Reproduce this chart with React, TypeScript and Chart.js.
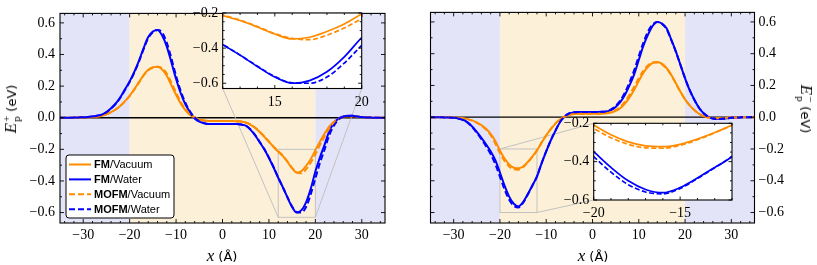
import React, { useEffect, useRef } from 'react';
import { Chart, registerables } from 'chart.js';
Chart.register(...registerables);

// ---------------- data ----------------
const X_POS = [-35,-34,-33,-32,-31,-30,-29,-28,-27,-26,-25,-24,-23,-22,-21,-20,-19,-18,-17,-16,-15,-14,-13,-12,-11,-10,-9,-8,-7,-6,-5,-4,-3,-2,-1,0,1,2,3,4,5,6,7,8,9,10,11,12,13,14,15,16,17,18,19,20,21,22,23,24,25,26,27,28,29,30,31,32,33,34,35];

// E_p^+ panel
const FM_VACUUM_PLUS = [0,0,0,0.001,0.001,0.002,0.003,0.005,0.008,0.013,
  0.022,0.035,0.052,0.075,0.105,0.14,0.18,0.225,0.27,0.303,
  0.32,0.322,0.305,0.265,0.205,0.145,0.09,0.048,0.018,0,
  -0.012,-0.018,-0.02,-0.021,-0.021,-0.021,-0.021,-0.021,-0.022,-0.024,
  -0.03,-0.043,-0.063,-0.09,-0.12,-0.152,-0.185,-0.215,-0.243,-0.28,
  -0.32,-0.348,-0.338,-0.305,-0.262,-0.205,-0.15,-0.1,-0.055,-0.025,
  -0.005,0.006,0.01,0.01,0.007,0.004,0.002,0.001,0,0,0];
const FM_WATER_PLUS = [0,0,0,0.001,0.002,0.003,0.005,0.008,0.012,0.02,
  0.035,0.06,0.09,0.13,0.18,0.23,0.29,0.36,0.44,0.51,
  0.545,0.555,0.52,0.45,0.35,0.245,0.155,0.085,0.035,-0.005,
  -0.025,-0.035,-0.04,-0.04,-0.04,-0.04,-0.04,-0.04,-0.04,-0.043,
  -0.05,-0.075,-0.11,-0.155,-0.2,-0.255,-0.315,-0.38,-0.44,-0.505,
  -0.565,-0.6,-0.585,-0.535,-0.45,-0.34,-0.25,-0.17,-0.085,-0.035,
  -0.005,0.008,0.012,0.012,0.008,0.004,0.002,0.001,0,0,0];
const MOFM_VACUUM_PLUS = [0,0,0,0.001,0.001,0.002,0.003,0.005,0.008,0.013,
  0.022,0.035,0.052,0.075,0.103,0.137,0.177,0.222,0.267,0.3,
  0.316,0.322,0.312,0.28,0.222,0.16,0.1,0.055,0.022,0.003,
  -0.01,-0.017,-0.02,-0.021,-0.021,-0.021,-0.021,-0.021,-0.022,-0.024,
  -0.03,-0.042,-0.062,-0.088,-0.118,-0.15,-0.183,-0.212,-0.24,-0.277,
  -0.317,-0.345,-0.352,-0.326,-0.285,-0.232,-0.172,-0.118,-0.068,-0.032,
  -0.01,0.004,0.009,0.01,0.007,0.004,0.002,0.001,0,0,0];
const MOFM_WATER_PLUS = [0,0,0,0.001,0.002,0.003,0.005,0.008,0.012,0.02,
  0.034,0.058,0.088,0.127,0.176,0.226,0.285,0.355,0.433,0.503,
  0.54,0.555,0.54,0.475,0.375,0.265,0.17,0.095,0.04,0.002,
  -0.022,-0.034,-0.04,-0.04,-0.04,-0.04,-0.04,-0.04,-0.04,-0.043,
  -0.05,-0.073,-0.108,-0.152,-0.198,-0.252,-0.312,-0.378,-0.44,-0.503,
  -0.562,-0.598,-0.6,-0.565,-0.485,-0.384,-0.285,-0.2,-0.11,-0.05,
  -0.012,0.005,0.011,0.012,0.008,0.004,0.002,0.001,0,0,0];

// E_p^- panel
const FM_VACUUM_MINUS = [0,0,0,0,-0.001,-0.002,-0.004,-0.007,-0.012,-0.02,
  -0.033,-0.05,-0.073,-0.105,-0.15,-0.209,-0.26,-0.297,-0.318,-0.322,
  -0.31,-0.282,-0.248,-0.209,-0.16,-0.115,-0.075,-0.04,-0.013,0.004,
  0.015,0.02,0.022,0.022,0.022,0.022,0.022,0.023,0.025,0.03,
  0.04,0.057,0.085,0.125,0.172,0.228,0.28,0.318,0.342,0.348,
  0.337,0.31,0.268,0.215,0.16,0.112,0.075,0.045,0.022,0.007,
  -0.002,-0.006,-0.007,-0.006,-0.004,-0.002,-0.001,0,0,0,0];
const FM_WATER_MINUS = [0,0,0,-0.001,-0.002,-0.004,-0.008,-0.016,-0.032,-0.058,
  -0.092,-0.13,-0.17,-0.215,-0.27,-0.348,-0.43,-0.5,-0.545,-0.562,
  -0.535,-0.485,-0.43,-0.374,-0.29,-0.215,-0.145,-0.085,-0.03,0.005,
  0.024,0.031,0.033,0.033,0.033,0.033,0.033,0.034,0.036,0.045,
  0.065,0.095,0.14,0.2,0.27,0.36,0.45,0.52,0.575,0.6,
  0.59,0.56,0.49,0.415,0.33,0.245,0.17,0.11,0.06,0.025,
  0.003,-0.008,-0.011,-0.01,-0.007,-0.004,-0.002,-0.001,0,0,0];
const MOFM_VACUUM_MINUS = [0,0,0,0,-0.001,-0.002,-0.004,-0.007,-0.012,-0.021,
  -0.035,-0.053,-0.078,-0.113,-0.165,-0.226,-0.275,-0.31,-0.328,-0.33,
  -0.315,-0.286,-0.25,-0.21,-0.16,-0.114,-0.074,-0.039,-0.012,0.004,
  0.015,0.02,0.022,0.022,0.022,0.022,0.022,0.023,0.026,0.032,
  0.044,0.065,0.098,0.142,0.192,0.245,0.293,0.327,0.345,0.345,
  0.332,0.306,0.265,0.213,0.16,0.112,0.075,0.045,0.022,0.007,
  -0.002,-0.006,-0.007,-0.006,-0.004,-0.002,-0.001,0,0,0,0];
const MOFM_WATER_MINUS = [0,0,0,-0.001,-0.002,-0.004,-0.008,-0.017,-0.034,-0.062,
  -0.098,-0.138,-0.182,-0.232,-0.295,-0.374,-0.455,-0.52,-0.558,-0.568,
  -0.54,-0.488,-0.432,-0.372,-0.29,-0.214,-0.144,-0.084,-0.029,0.006,
  0.025,0.032,0.033,0.033,0.033,0.033,0.033,0.034,0.037,0.05,
  0.072,0.105,0.155,0.22,0.295,0.385,0.47,0.54,0.585,0.6,
  0.588,0.555,0.487,0.413,0.33,0.245,0.17,0.11,0.06,0.025,
  0.003,-0.008,-0.011,-0.01,-0.007,-0.004,-0.002,-0.001,0,0,0];

// ticks & ranges
const MAIN_X_RANGE = [-35, 35];
const MAIN_Y_RANGE = [-0.666, 0.66];
const MAIN_X_TICKS = [-30, -20, -10, 0, 10, 20, 30];
const MAIN_Y_TICKS = [-0.6, -0.4, -0.2, 0, 0.2, 0.4, 0.6];
const INSET_L_X_RANGE = [12, 20];
const INSET_L_Y_RANGE = [-0.63, -0.2];
const INSET_R_X_RANGE = [-20, -12];
const INSET_R_Y_RANGE = [-0.6, -0.2];
const INSET_L_X_TICKS = [15, 20];
const INSET_R_X_TICKS = [-20, -15];
const INSET_Y_TICKS = [-0.6, -0.4, -0.2];
const REGION_EDGES = [-35, -20, 20, 35];
const REGION_KINDS = ['outer', 'inner', 'outer'];
const LEGEND_ENTRIES = [
  { bold: 'FM', rest: '/Vacuum' },
  { bold: 'FM', rest: '/Water' },
  { bold: 'MOFM', rest: '/Vacuum' },
  { bold: 'MOFM', rest: '/Water' },
];

// ---------------- style ----------------
const SERIF = '"Liberation Serif", "Times New Roman", serif';
const SANS = '"DejaVu Sans", sans-serif';
const LEG_FONT = '"Liberation Sans", Arial, sans-serif';
const ORANGE = '#ff8c00';
const BLUE = '#0000ff';
const BG = { outer: '#e4e4f9', inner: '#fdf0d8' } as Record<string, string>;
const GREY = '#c2c2c2';

function steps(from: number, to: number, step: number, skip: number[]) {
  const out: number[] = [];
  const n = Math.round((to - from) / step);
  for (let i = 0; i <= n; i++) {
    const v = Math.round((from + i * step) * 1000) / 1000;
    if (!skip.some((s) => Math.abs(s - v) < 1e-6)) out.push(v);
  }
  return out;
}
const fmt = (v: number, d: number) => (v < 0 ? '\u2212' : '') + Math.abs(v).toFixed(d);
const pts = (ys: number[]) => X_POS.map((x, i) => ({ x, y: ys[i] }));

function datasets(series: number[][], lw: number, dash: number[]) {
  const colors = [ORANGE, BLUE, ORANGE, BLUE];
  return series.map((s, i) => ({
    data: pts(s),
    borderColor: colors[i],
    borderWidth: lw,
    borderDash: i >= 2 ? dash : [],
    pointRadius: 0,
    fill: false,
    cubicInterpolationMode: 'monotone',
    order: 4 - i,
  }));
}

type Area = { left: number; top: number; right: number; bottom: number };

function makePlugin(deco: any) {
  return {
    id: 'fig' + Math.random().toString(36).slice(2),
    beforeDatasetsDraw(chart: any) {
      const { ctx, chartArea: a } = chart;
      const xs = chart.scales.x, ys = chart.scales.y;
      ctx.save();
      ctx.beginPath();
      ctx.rect(a.left, a.top, a.right - a.left, a.bottom - a.top);
      ctx.clip();
      if (deco.regions) {
        for (let i = 0; i < REGION_KINDS.length; i++) {
          const x0 = xs.getPixelForValue(REGION_EDGES[i]);
          const x1 = xs.getPixelForValue(REGION_EDGES[i + 1]);
          ctx.fillStyle = BG[REGION_KINDS[i]];
          ctx.fillRect(x0, a.top, x1 - x0, a.bottom - a.top);
        }
      } else {
        ctx.fillStyle = '#ffffff';
        ctx.fillRect(a.left, a.top, a.right - a.left, a.bottom - a.top);
      }
      if (deco.zero) {
        const y0 = ys.getPixelForValue(0);
        ctx.strokeStyle = '#000';
        ctx.lineWidth = 1.3;
        ctx.beginPath();
        ctx.moveTo(a.left, y0);
        ctx.lineTo(a.right, y0);
        ctx.stroke();
      }
      ctx.restore();
      if (deco.zoom) {
        const z = deco.zoom;
        const c: Record<string, number[]> = {
          tl: [xs.getPixelForValue(z.x[0]), ys.getPixelForValue(z.y[1])],
          tr: [xs.getPixelForValue(z.x[1]), ys.getPixelForValue(z.y[1])],
          bl: [xs.getPixelForValue(z.x[0]), ys.getPixelForValue(z.y[0])],
          br: [xs.getPixelForValue(z.x[1]), ys.getPixelForValue(z.y[0])],
        };
        const ia: Area = deco.insetArea;
        const ic: Record<string, number[]> = {
          tl: [ia.left, ia.top], tr: [ia.right, ia.top],
          bl: [ia.left, ia.bottom], br: [ia.right, ia.bottom],
        };
        ctx.save();
        ctx.strokeStyle = GREY;
        ctx.lineWidth = 1;
        ctx.strokeRect(c.tl[0], c.tl[1], c.br[0] - c.tl[0], c.br[1] - c.tl[1]);
        ctx.beginPath();
        for (const [from, to] of deco.connect) {
          ctx.moveTo(c[from][0], c[from][1]);
          ctx.lineTo(ic[to][0], ic[to][1]);
        }
        ctx.stroke();
        ctx.restore();
      }
    },
    afterDatasetsDraw(chart: any) {
      const { ctx, chartArea: a } = chart;
      const xs = chart.scales.x, ys = chart.scales.y;
      ctx.save();
      ctx.strokeStyle = '#000';
      ctx.lineWidth = 0.9;
      const tick = (vals: number[], len: number) => {
        for (const v of vals) {
          const p = xs.getPixelForValue(v);
          if (p < a.left - 0.5 || p > a.right + 0.5) continue;
          ctx.moveTo(p, a.bottom); ctx.lineTo(p, a.bottom - len);
          ctx.moveTo(p, a.top); ctx.lineTo(p, a.top + len);
        }
      };
      const tickY = (vals: number[], len: number) => {
        for (const v of vals) {
          const p = ys.getPixelForValue(v);
          if (p < a.top - 0.5 || p > a.bottom + 0.5) continue;
          ctx.moveTo(a.left, p); ctx.lineTo(a.left + len, p);
          ctx.moveTo(a.right, p); ctx.lineTo(a.right - len, p);
        }
      };
      ctx.beginPath();
      tick(deco.xMajor, deco.majorLen);
      tick(deco.xMinor, deco.minorLen);
      tickY(deco.yMajor, deco.majorLen);
      tickY(deco.yMinor, deco.minorLen);
      ctx.stroke();
      ctx.lineWidth = 1.1;
      ctx.strokeRect(a.left, a.top, a.right - a.left, a.bottom - a.top);
      ctx.restore();

      if (deco.legend) {
        const w = 108, h = 63;
        const lx = a.left + 6, ly = a.bottom - 5 - h;
        ctx.save();
        ctx.beginPath();
        ctx.roundRect(lx, ly, w, h, 3);
        ctx.fillStyle = '#fff';
        ctx.fill();
        ctx.strokeStyle = '#000';
        ctx.lineWidth = 1;
        ctx.stroke();
        const colors = [ORANGE, BLUE, ORANGE, BLUE];
        LEGEND_ENTRIES.forEach((e, i) => {
          const ry = ly + 9.5 + i * 14.9;
          ctx.beginPath();
          ctx.strokeStyle = colors[i];
          ctx.lineWidth = 2;
          ctx.setLineDash(i >= 2 ? [6, 3] : []);
          ctx.moveTo(lx + 3, ry);
          ctx.lineTo(lx + 25, ry);
          ctx.stroke();
          ctx.setLineDash([]);
          ctx.fillStyle = '#000';
          ctx.textBaseline = 'middle';
          ctx.textAlign = 'left';
          ctx.font = 'bold 11px ' + LEG_FONT;
          ctx.fillText(e.bold, lx + 28, ry + 0.5);
          const bw = ctx.measureText(e.bold).width;
          ctx.font = '11px ' + LEG_FONT;
          ctx.fillText(e.rest, lx + 28 + bw, ry + 0.5);
        });
        ctx.restore();
      }
    },
  };
}

function build(canvas: HTMLCanvasElement, spec: any) {
  const { w, h, area, yPos, xRange, yRange, xTicks, yTicks, xDec, yDec, xPad, yPad, series, lw, dash, deco } = spec;
  const padding = yPos === 'left'
    ? { left: 0, top: area.top, right: w - area.right, bottom: 0 }
    : { left: area.left, top: area.top, right: 0, bottom: 0 };
  const yWidth = yPos === 'left' ? area.left : w - area.right;
  const xHeight = h - area.bottom;
  const tickFont = { family: SERIF, size: 14 };
  return new Chart(canvas, {
    type: 'line',
    data: { datasets: datasets(series, lw, dash) as any },
    options: {
      animation: false,
      responsive: false,
      maintainAspectRatio: false,
      events: [],
      layout: { padding },
      plugins: { legend: { display: false }, tooltip: { enabled: false } },
      scales: {
        x: {
          type: 'linear', position: 'bottom', min: xRange[0], max: xRange[1],
          grid: { display: false, drawTicks: false },
          border: { display: false },
          afterBuildTicks: (s: any) => { s.ticks = xTicks.map((v: number) => ({ value: v })); },
          afterFit: (s: any) => { s.height = xHeight; },
          ticks: { padding: xPad, color: '#000', font: tickFont, maxRotation: 0, autoSkip: false,
            callback: (v: any) => fmt(Number(v), xDec) },
        },
        y: {
          type: 'linear', position: yPos, min: yRange[0], max: yRange[1],
          grid: { display: false, drawTicks: false },
          border: { display: false },
          afterBuildTicks: (s: any) => { s.ticks = yTicks.map((v: number) => ({ value: v })); },
          afterFit: (s: any) => { s.width = yWidth; },
          ticks: { padding: yPad, color: '#000', font: tickFont, autoSkip: false,
            callback: (v: any) => fmt(Number(v), yDec) },
        },
      },
    } as any,
    plugins: [makePlugin(deco)],
  });
}

const POS = {
  lm: { x: 0, y: 0, w: 408, h: 265 },
  rm: { x: 408, y: 0, w: 409, h: 265 },
  li: { x: 170, y: 0, w: 210, h: 115 },
  ri: { x: 540, y: 100, w: 210, h: 125 },
};

const shift = (a: Area, dx: number, dy: number): Area => ({
  left: a.left + dx, right: a.right + dx, top: a.top + dy, bottom: a.bottom + dy,
});

function YTitle({ sign, cx, cy, rot }: { sign: string; cx: number; cy: number; rot: number }) {
  return (
    <div style={{ position: 'absolute', left: cx, top: cy, transform: `translate(-50%,-50%) rotate(${rot}deg)`,
      whiteSpace: 'nowrap', display: 'flex', alignItems: 'center', color: '#000' }}>
      <span style={{ fontFamily: SERIF, fontStyle: 'italic', fontSize: 17 }}>E</span>
      <span style={{ display: 'inline-flex', flexDirection: 'column', fontFamily: SERIF, fontSize: 11,
        lineHeight: '10px', marginLeft: 1, marginRight: 4, alignItems: 'flex-start' }}>
        <span>{sign}</span><span>p</span>
      </span>
      <span style={{ fontFamily: SANS, fontSize: 13 }}>(eV)</span>
    </div>
  );
}

function XTitle({ cx, cy }: { cx: number; cy: number }) {
  return (
    <div style={{ position: 'absolute', left: cx, top: cy, transform: 'translate(-50%,-50%)', whiteSpace: 'nowrap', color: '#000' }}>
      <span style={{ fontFamily: SERIF, fontStyle: 'italic', fontSize: 17 }}>x</span>
      <span style={{ fontFamily: SANS, fontSize: 13 }}> (Å)</span>
    </div>
  );
}

export default function App() {
  const lm = useRef<HTMLCanvasElement>(null);
  const rm = useRef<HTMLCanvasElement>(null);
  const li = useRef<HTMLCanvasElement>(null);
  const ri = useRef<HTMLCanvasElement>(null);

  useEffect(() => {
    const mainTicks = {
      xMajor: MAIN_X_TICKS, xMinor: steps(-34, 34, 2, MAIN_X_TICKS),
      yMajor: MAIN_Y_TICKS, yMinor: steps(-0.7, 0.7, 0.1, MAIN_Y_TICKS),
      majorLen: 4, minorLen: 2,
    };
    const insetTicksL = {
      xMajor: INSET_L_X_TICKS, xMinor: steps(12, 20, 1, INSET_L_X_TICKS),
      yMajor: INSET_Y_TICKS, yMinor: steps(-0.65, -0.2, 0.05, INSET_Y_TICKS),
      majorLen: 3.5, minorLen: 2,
    };
    const insetTicksR = {
      xMajor: INSET_R_X_TICKS, xMinor: steps(-20, -12, 1, INSET_R_X_TICKS),
      yMajor: INSET_Y_TICKS, yMinor: steps(-0.6, -0.2, 0.05, INSET_Y_TICKS),
      majorLen: 3.5, minorLen: 2,
    };
    const plusSeries = [FM_VACUUM_PLUS, FM_WATER_PLUS, MOFM_VACUUM_PLUS, MOFM_WATER_PLUS];
    const minusSeries = [FM_VACUUM_MINUS, FM_WATER_MINUS, MOFM_VACUUM_MINUS, MOFM_WATER_MINUS];

    const cli = build(li.current!, {
      w: POS.li.w, h: POS.li.h, area: { left: 52.7, top: 13, right: 191.7, bottom: 88.5 }, yPos: 'left',
      xRange: INSET_L_X_RANGE, yRange: INSET_L_Y_RANGE, xTicks: INSET_L_X_TICKS, yTicks: INSET_Y_TICKS,
      xDec: 0, yDec: 1, xPad: 5, yPad: 4.5, series: plusSeries, lw: 1.7, dash: [5, 2.5],
      deco: { ...insetTicksL },
    });
    const cri = build(ri.current!, {
      w: POS.ri.w, h: POS.ri.h, area: { left: 53.7, top: 23.3, right: 192, bottom: 100 }, yPos: 'left',
      xRange: INSET_R_X_RANGE, yRange: INSET_R_Y_RANGE, xTicks: INSET_R_X_TICKS, yTicks: INSET_Y_TICKS,
      xDec: 0, yDec: 1, xPad: 4.5, yPad: 4.5, series: minusSeries, lw: 1.7, dash: [5, 2.5],
      deco: { ...insetTicksR },
    });
    const clm = build(lm.current!, {
      w: POS.lm.w, h: POS.lm.h, area: { left: 60, top: 2, right: 385, bottom: 223 }, yPos: 'left',
      xRange: MAIN_X_RANGE, yRange: MAIN_Y_RANGE, xTicks: MAIN_X_TICKS, yTicks: MAIN_Y_TICKS,
      xDec: 0, yDec: 1, xPad: 4, yPad: 5, series: plusSeries, lw: 2, dash: [6, 3],
      deco: {
        ...mainTicks, regions: true, zero: true, legend: true,
        zoom: { x: INSET_L_X_RANGE, y: INSET_L_Y_RANGE },
        insetArea: shift(cli.chartArea as Area, POS.li.x - POS.lm.x, POS.li.y - POS.lm.y),
        connect: [['bl', 'bl'], ['br', 'br']],
      },
    });
    const crm = build(rm.current!, {
      w: POS.rm.w, h: POS.rm.h, area: { left: 22.5, top: 2, right: 346.5, bottom: 223 }, yPos: 'right',
      xRange: MAIN_X_RANGE, yRange: MAIN_Y_RANGE, xTicks: MAIN_X_TICKS, yTicks: MAIN_Y_TICKS,
      xDec: 0, yDec: 1, xPad: 4, yPad: 4, series: minusSeries, lw: 2, dash: [6, 3],
      deco: {
        ...mainTicks, regions: true, zero: true,
        zoom: { x: INSET_R_X_RANGE, y: INSET_R_Y_RANGE },
        insetArea: shift(cri.chartArea as Area, POS.ri.x - POS.rm.x, POS.ri.y - POS.rm.y),
        connect: [['tl', 'tl'], ['br', 'bl']],
      },
    });
    return () => { [clm, crm, cli, cri].forEach((c) => c.destroy()); };
  }, []);

  const cv = (ref: any, p: { x: number; y: number; w: number; h: number }) => (
    <canvas ref={ref} width={p.w} height={p.h}
      style={{ position: 'absolute', left: p.x, top: p.y, width: p.w, height: p.h, display: 'block' }} />
  );

  return (
    <div style={{ position: 'fixed', left: 0, top: 0, width: 817, height: 265, background: '#fff', overflow: 'hidden' }}>
      {cv(lm, POS.lm)}
      {cv(rm, POS.rm)}
      {cv(li, POS.li)}
      {cv(ri, POS.ri)}
      <YTitle sign="+" cx={11} cy={109} rot={-90} />
      <YTitle sign={'\u2212'} cx={806} cy={109} rot={90} />
      <XTitle cx={222} cy={256} />
      <XTitle cx={593} cy={256} />
    </div>
  );
}
